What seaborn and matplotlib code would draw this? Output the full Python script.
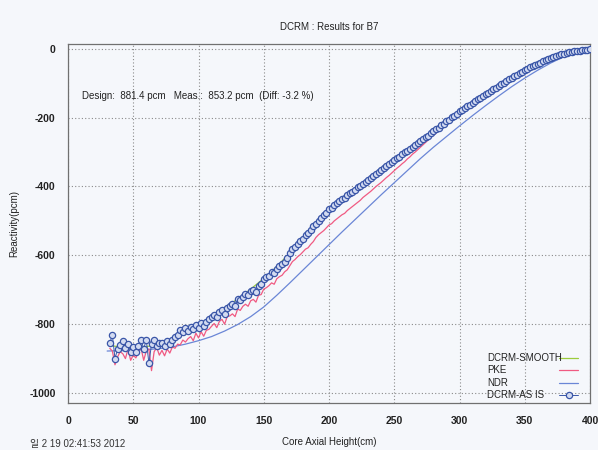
import numpy as np
import pandas as pd
import matplotlib
matplotlib.use("Agg")
import matplotlib.pyplot as plt
import seaborn as sns

# ---------------- data ----------------
pos_x = list(range(32, 401, 2))  # core axial height (cm) for measured / PKE points

asis_y = [
    -856, -831, -900, -872, -861, -848, -870, -858, -880, -866,
    -880, -862, -846, -871, -846, -914, -858, -846, -862, -856,
    -856, -862, -850, -858, -846, -836, -831, -818, -824, -812,
    -820, -808, -815, -802, -812, -798, -806, -793, -786, -778,
    -772, -780, -765, -758, -770, -752, -748, -740, -746, -728,
    -730, -720, -712, -716, -705, -700, -706, -690, -684, -670,
    -664, -660, -648, -652, -640, -632, -626, -618, -608, -594,
    -583, -576, -568, -559, -552, -540, -536, -526, -516, -508,
    -500, -492, -484, -478, -466, -462, -455, -448, -443, -436,
    -432, -426, -420, -416, -410, -402, -398, -392, -386, -380,
    -375, -370, -363, -359, -352, -346, -341, -334, -329, -323,
    -317, -313, -307, -301, -296, -290, -285, -279, -274, -268,
    -263, -256, -252, -246, -240, -234, -229, -222, -217, -211,
    -206, -199, -195, -188, -182, -177, -172, -167, -162, -157,
    -152, -146, -142, -137, -132, -127, -122, -117, -113, -108,
    -103, -98, -94, -89, -84, -80, -75, -71, -66, -62,
    -58, -54, -50, -47, -43, -40, -36, -33, -30, -27,
    -24, -21, -19, -16, -14, -12, -10, -8, -7, -6,
    -5, -4, -3, -2, -1,
]

pke_y = [
    -870, -878, -918, -895, -880, -886, -900, -872, -905, -890,
    -898, -880, -870, -905, -878, -872, -935, -880, -868, -890,
    -876, -892, -872, -884, -866, -870, -858, -860, -846, -852,
    -842, -836, -848, -826, -840, -822, -835, -818, -815, -806,
    -798, -810, -792, -786, -800, -778, -776, -770, -778, -756,
    -760, -748, -742, -748, -732, -728, -736, -716, -714, -698,
    -694, -688, -680, -684, -668, -662, -658, -648, -642, -630,
    -618, -612, -604, -598, -590, -582, -578, -568, -560, -548,
    -540, -534, -528, -520, -512, -508, -500, -494, -488, -482,
    -478, -470, -464, -458, -452, -446, -440, -432, -426, -420,
    -414, -407, -400, -394, -388, -381, -374, -368, -361, -354,
    -347, -341, -334, -328, -320, -314, -306, -300, -293, -286,
    -279, -272, -265, -258, -251, -245, -238, -231, -224, -218,
    -211, -204, -198, -192, -186, -180, -174, -168, -163, -158,
    -153, -148, -143, -138, -133, -128, -123, -118, -114, -109,
    -104, -99, -95, -90, -85, -81, -76, -72, -67, -63,
    -59, -55, -51, -47, -44, -40, -37, -34, -31, -28,
    -25, -22, -19, -17, -15, -13, -11, -9, -7, -6,
    -5, -4, -3, -2, -1,
]

smooth_x = [32, 40, 50, 60, 70, 80, 90, 100, 110, 120, 130, 140, 150, 160, 170,
            180, 190, 200, 210, 220, 230, 240, 250, 260, 270, 280, 290, 300,
            310, 320, 330, 340, 350, 360, 370, 380, 390, 400]
smooth_y = [-862, -866, -866, -865, -860, -850, -822, -806, -780, -752, -727,
            -698, -667, -633, -592, -551, -508, -467, -438, -410, -381, -352,
            -323, -296, -268, -240, -211, -182, -157, -132, -108, -84, -62,
            -43, -27, -14, -6, -1]

ndr_x = [30, 40, 50, 60, 70, 80, 90, 100, 110, 120, 130, 140, 150, 160, 170,
         180, 190, 200, 210, 220, 230, 240, 250, 260, 270, 280, 290, 300,
         310, 320, 330, 340, 350, 360, 370, 380, 390, 400]
ndr_y = [-878, -877, -876, -874, -871, -866, -858, -848, -836, -820, -801,
         -778, -750, -716, -680, -643, -606, -569, -532, -496, -460, -424,
         -389, -354, -319, -286, -255, -224, -194, -165, -137, -110, -85,
         -62, -41, -23, -9, 0]

title = "DCRM : Results for B7"
xlabel = "Core Axial Height(cm)"
ylabel = "Reactivity(pcm)"
note = "Design:  881.4 pcm   Meas.:  853.2 pcm  (Diff: -3.2 %)"
stamp = "일 2 19 02:41:53 2012"
legend_order = ["DCRM-SMOOTH", "PKE", "NDR", "DCRM-AS IS"]
x_ticks = [0, 50, 100, 150, 200, 250, 300, 350, 400]
y_ticks = [0, -200, -400, -600, -800, -1000]

# ---------------- plot ----------------
sns.set_theme(style="white")
plt.rcParams["font.family"] = ["Liberation Sans", "Noto Sans CJK KR", "DejaVu Sans"]

bg = "#f5f7fb"
W, H = 598, 450
fig = plt.figure(figsize=(W / 100, H / 100), dpi=100, facecolor=bg)
ax = fig.add_axes([68 / W, 1 - 403 / H, 522 / W, 359 / H])
ax.set_facecolor(bg)

df_meas = pd.DataFrame({"x": pos_x, "asis": asis_y, "pke": pke_y})
df_smooth = pd.DataFrame({"x": smooth_x, "y": smooth_y})
df_ndr = pd.DataFrame({"x": ndr_x, "y": ndr_y})

c_smooth = "#9ccc3c"
c_pke = "#f05a82"
c_ndr = "#6a86d6"
c_asis = "#3a56a8"

sns.lineplot(data=df_ndr, x="x", y="y", ax=ax, color=c_ndr, lw=0.9,
             label="NDR", zorder=2)
sns.lineplot(data=df_meas, x="x", y="pke", ax=ax, color=c_pke, lw=0.9,
             label="PKE", zorder=3)
sns.lineplot(data=df_smooth, x="x", y="y", ax=ax, color=c_smooth, lw=0.9,
             label="DCRM-SMOOTH", zorder=3.5)
sns.lineplot(data=df_meas, x="x", y="asis", ax=ax, color=c_asis, lw=0.7,
             marker="o", markersize=4.5, markerfacecolor="#d3dbf1",
             markeredgecolor=c_asis, markeredgewidth=0.9,
             label="DCRM-AS IS", zorder=4)

ax.set_xlim(0, 400)
ax.set_ylim(-1029, 14)
ax.set_xticks(x_ticks)
ax.set_yticks(y_ticks)
ax.set_xticklabels([str(v) for v in x_ticks], fontsize=7.5, fontweight="bold")
ax.set_yticklabels([str(v) for v in y_ticks], fontsize=7.5, fontweight="bold")
ax.tick_params(axis="both", length=0, pad=9, colors="#222222")
ax.grid(True, linestyle=(0, (1, 2)), color="#8a8a8a", lw=0.8)
for s in ax.spines.values():
    s.set_color("#707070")
    s.set_linewidth(0.9)

fs = 7
ax.set_xlabel(xlabel, fontsize=fs, labelpad=8, color="#222222")
ax.set_ylabel(ylabel, fontsize=fs, labelpad=7, color="#222222")
ax.set_title(title, fontsize=fs, pad=10, color="#222222")

ax.text(0.027, 0.855, note, transform=ax.transAxes, fontsize=fs,
        va="center", ha="left", color="#222222")

# legend: handles on the right (library legend), labels left-aligned beside them
handles, labels = ax.get_legend_handles_labels()
hmap = dict(zip(labels, handles))
leg = ax.legend([hmap[k] for k in legend_order], [" "] * len(legend_order),
                loc="lower right", bbox_to_anchor=(0.99, -0.012),
                frameon=False, markerfirst=False, fontsize=8,
                handlelength=1.7, labelspacing=0.2, handletextpad=0.0,
                borderaxespad=0.2)
fig.canvas.draw()
renderer = fig.canvas.get_renderer()
for name, h in zip(legend_order, leg.legend_handles):
    bb = h.get_window_extent(renderer)
    yc = (bb.y0 + bb.y1) / 2 / (fig.dpi * fig.get_figheight())
    fig.text(487 / W, yc, name, fontsize=fs, va="center", ha="left",
             color="#222222")

fig.text(30 / W, 1 - 439 / H, stamp, fontsize=fs, va="top", ha="left",
         color="#333333")

fig.savefig("out.png", dpi=100, facecolor=bg)
